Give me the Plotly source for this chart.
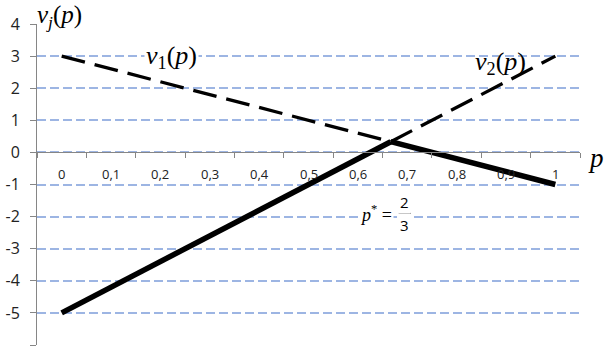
import plotly.graph_objects as go

# ---- data ----
p_star = 2 / 3
v_star = 1 / 3
# v1(p) = 3 - 4p  (dashed above the envelope, solid on the lower envelope)
v1_dash_p = [0, p_star]
v1_dash_v = [3, v_star]
v1_solid_p = [p_star, 1]
v1_solid_v = [v_star, -1]
# v2(p) = -5 + 8p
v2_solid_p = [0, p_star]
v2_solid_v = [-5, v_star]
v2_dash_p = [p_star, 1]
v2_dash_v = [v_star, 3]

x_cats = [0, 0.1, 0.2, 0.3, 0.4, 0.5, 0.6, 0.7, 0.8, 0.9, 1]
x_labels = ["0", "0,1", "0,2", "0,3", "0,4", "0,5", "0,6", "0,7", "0,8", "0,9", "1"]
y_ticks = [4, 3, 2, 1, 0, -1, -2, -3, -4, -5, -6]
y_labels = ["4", "3", "2", "1", "0", "-1", "-2", "-3", "-4", "-5", "-6"]

fig = go.Figure()
for px, vy, dash, w in [
    (v1_dash_p, v1_dash_v, "24px,10px", 3.3),
    (v2_dash_p, v2_dash_v, "24px,10px", 3.3),
    (v2_solid_p, v2_solid_v, "solid", 5.5),
    (v1_solid_p, v1_solid_v, "solid", 5.5),
]:
    fig.add_trace(go.Scatter(x=px, y=vy, mode="lines",
                             line=dict(color="black", width=w, dash=dash),
                             showlegend=False, hoverinfo="skip"))

tick_between = [round(c - 0.05, 3) for c in x_cats] + [1.05]

fig.update_layout(
    width=611, height=354,
    margin=dict(l=37, r=31, t=24, b=9, autoexpand=False),
    paper_bgcolor="white", plot_bgcolor="white",
    showlegend=False,
    xaxis=dict(range=[-0.05, 1.05], showgrid=False, zeroline=False,
               showline=True, linecolor="#868686", linewidth=1,
               anchor="free", position=0.6, automargin=False,
               ticks="outside", ticklen=5, tickcolor="#868686",
               tickvals=tick_between, showticklabels=False),
    yaxis=dict(range=[-6, 4], tickvals=y_ticks, ticktext=y_labels,
               showgrid=True, gridcolor="#9DB5E3", gridwidth=1.5,
               griddash="9px,4px", zeroline=False, automargin=False,
               showline=True, linecolor="#868686", linewidth=1,
               ticks="outside", ticklen=6, tickcolor="#868686",
               ticklabelstandoff=7,
               tickfont=dict(family="Open Sans", size=16, color="#222")),
)

for xc, lab in zip(x_cats, x_labels):
    fig.add_annotation(x=xc, y=0, xref="x", yref="y", text=lab, showarrow=False,
                       yshift=-22, font=dict(family="Open Sans", size=13, color="#222"))

serif = "Liberation Serif"
fig.add_annotation(x=0, y=1 + 24 / 321, xref="paper", yref="paper", xanchor="left", yanchor="top",
                   text="<i>v</i><sub><i>j</i></sub>(<i>p</i>)", showarrow=False,
                   xshift=-1, borderpad=0, font=dict(family=serif, size=25, color="black"))
fig.add_annotation(x=0.222, y=2.97, xref="x", yref="y",
                   text="<i>v</i><sub>1</sub>(<i>p</i>)", showarrow=False,
                   bgcolor="white", font=dict(family=serif, size=26, color="black"))
fig.add_annotation(x=0.888, y=2.78, xref="x", yref="y",
                   text="<i>v</i><sub>2</sub>(<i>p</i>)", showarrow=False,
                   font=dict(family=serif, size=26, color="black"))
fig.add_annotation(x=1.03, y=-0.17, xref="paper", yref="y", xanchor="center",
                   text="<i>p</i>", showarrow=False,
                   font=dict(family=serif, size=27, color="black"))
fig.add_annotation(x=0.637, y=-1.9, xref="x", yref="y",
                   text="<i>p</i><sup>*</sup> =", showarrow=False, bgcolor="white",
                   font=dict(family=serif, size=18, color="black"))
fig.add_annotation(x=0.695, y=-1.55, xref="x", yref="y", text="2", showarrow=False,
                   bgcolor="white", font=dict(family="Open Sans", size=15, color="black"))
fig.add_annotation(x=0.695, y=-2.27, xref="x", yref="y", text="3", showarrow=False,
                   bgcolor="white", font=dict(family="Open Sans", size=15, color="black"))
fig.add_shape(type="line", xref="x", yref="y", x0=0.683, x1=0.707, y0=-1.9, y1=-1.9,
              line=dict(color="black", width=1))

fig.write_html("out.html")
